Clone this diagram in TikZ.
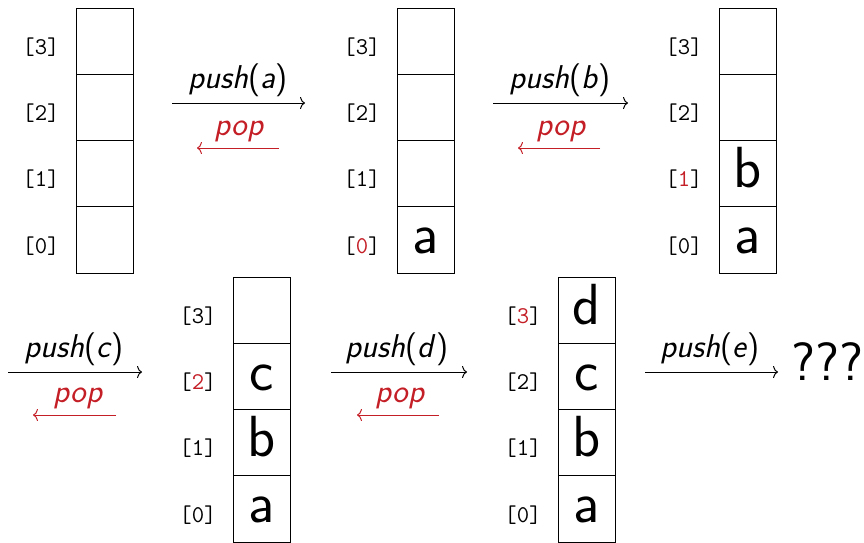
\documentclass[tikz,border=0pt]{standalone}
\usepackage{fontspec}
\usetikzlibrary{arrows.meta}
\definecolor{popred}{RGB}{196,30,38}

% one stack of four cells with its index labels
% #1 name, #2 left x, #3 top y, #4 highlighted index, #5 index/content list
\newcommand\mkstack[5]{%
  \foreach \k/\t in {#5}{%
    \node[cell] (#1c\k) at ({#2+28.5},{#3+(3-\k)*66.25+33.125}) {\t};
    \node[idx] (#1i\k) at ({#2-35},{#3+(3-\k)*66.25+39}) 
      {[\ifnum\k=#4\textcolor{popred}{\k}\else\k\fi]};
  }%
}
\newcommand\opname[2]{#1\textup{(}#2\textup{)}}

\begin{document}
\begin{tikzpicture}[x=1pt,y=-1pt,
  cell/.style={draw, line width=1pt, minimum width=57pt, minimum height=66.25pt,
    inner sep=0pt, text height=42pt, text depth=14pt,
    font=\fontsize{58}{60}\selectfont\sffamily},
  idx/.style={font=\fontsize{24}{26}\selectfont\ttfamily, inner sep=0pt},
  op/.style={font=\fontsize{33}{36}\selectfont\sffamily\itshape, inner sep=0pt, anchor=base},
  pushline/.style={line width=1pt, -{To[length=5pt,width=12pt]}},
  popline/.style={line width=1pt, popred, -{To[length=5pt,width=12pt]}},
]
\useasboundingbox (0,0) rectangle (864,542);

% stacks
\mkstack{sa}{76}{8}{9}{0/,1/,2/,3/}
\mkstack{sb}{397}{8}{0}{0/a,1/,2/,3/}
\mkstack{sc}{719}{8}{1}{0/a,1/b,2/,3/}
\mkstack{sd}{233}{277}{2}{0/a,1/b,2/c,3/}
\mkstack{se}{558}{277}{3}{0/a,1/b,2/c,3/d}

% push / pop arrows, top row
\coordinate (a1s) at (172,103); \coordinate (a1e) at (305,103);
\coordinate (p1s) at (279,148); \coordinate (p1e) at (197,148);
\draw[pushline] (a1s) -- (a1e);
\draw[popline] (p1s) -- (p1e);
\node[op] (pushA) at (238,88) {\opname{push}{a}};
\node[op, text=popred] (popA) at (239,135) {pop};

\coordinate (a2s) at (493,103); \coordinate (a2e) at (628,103);
\coordinate (p2s) at (600,148); \coordinate (p2e) at (518,148);
\draw[pushline] (a2s) -- (a2e);
\draw[popline] (p2s) -- (p2e);
\node[op] (pushB) at (560,88) {\opname{push}{b}};
\node[op, text=popred] (popB) at (561,135) {pop};

% bottom row
\coordinate (a3s) at (8,372); \coordinate (a3e) at (142,372);
\coordinate (p3s) at (116,415); \coordinate (p3e) at (33,415);
\draw[pushline] (a3s) -- (a3e);
\draw[popline] (p3s) -- (p3e);
\node[op] (pushC) at (74,357) {\opname{push}{c}};
\node[op, text=popred] (popC) at (78,402) {pop};

\coordinate (a4s) at (331,372); \coordinate (a4e) at (467,372);
\coordinate (p4s) at (439,415); \coordinate (p4e) at (357,415);
\draw[pushline] (a4s) -- (a4e);
\draw[popline] (p4s) -- (p4e);
\node[op] (pushD) at (397,357) {\opname{push}{d}};
\node[op, text=popred] (popD) at (400,402) {pop};

\coordinate (a5s) at (645,372); \coordinate (a5e) at (778,372);
\draw[pushline] (a5s) -- (a5e);
\node[op] (pushE) at (710,357) {\opname{push}{e}};
\node[font=\fontsize{54}{60}\selectfont\sffamily, inner sep=0pt, anchor=base] (unk) at (827,380) {???};
\end{tikzpicture}
\end{document}
